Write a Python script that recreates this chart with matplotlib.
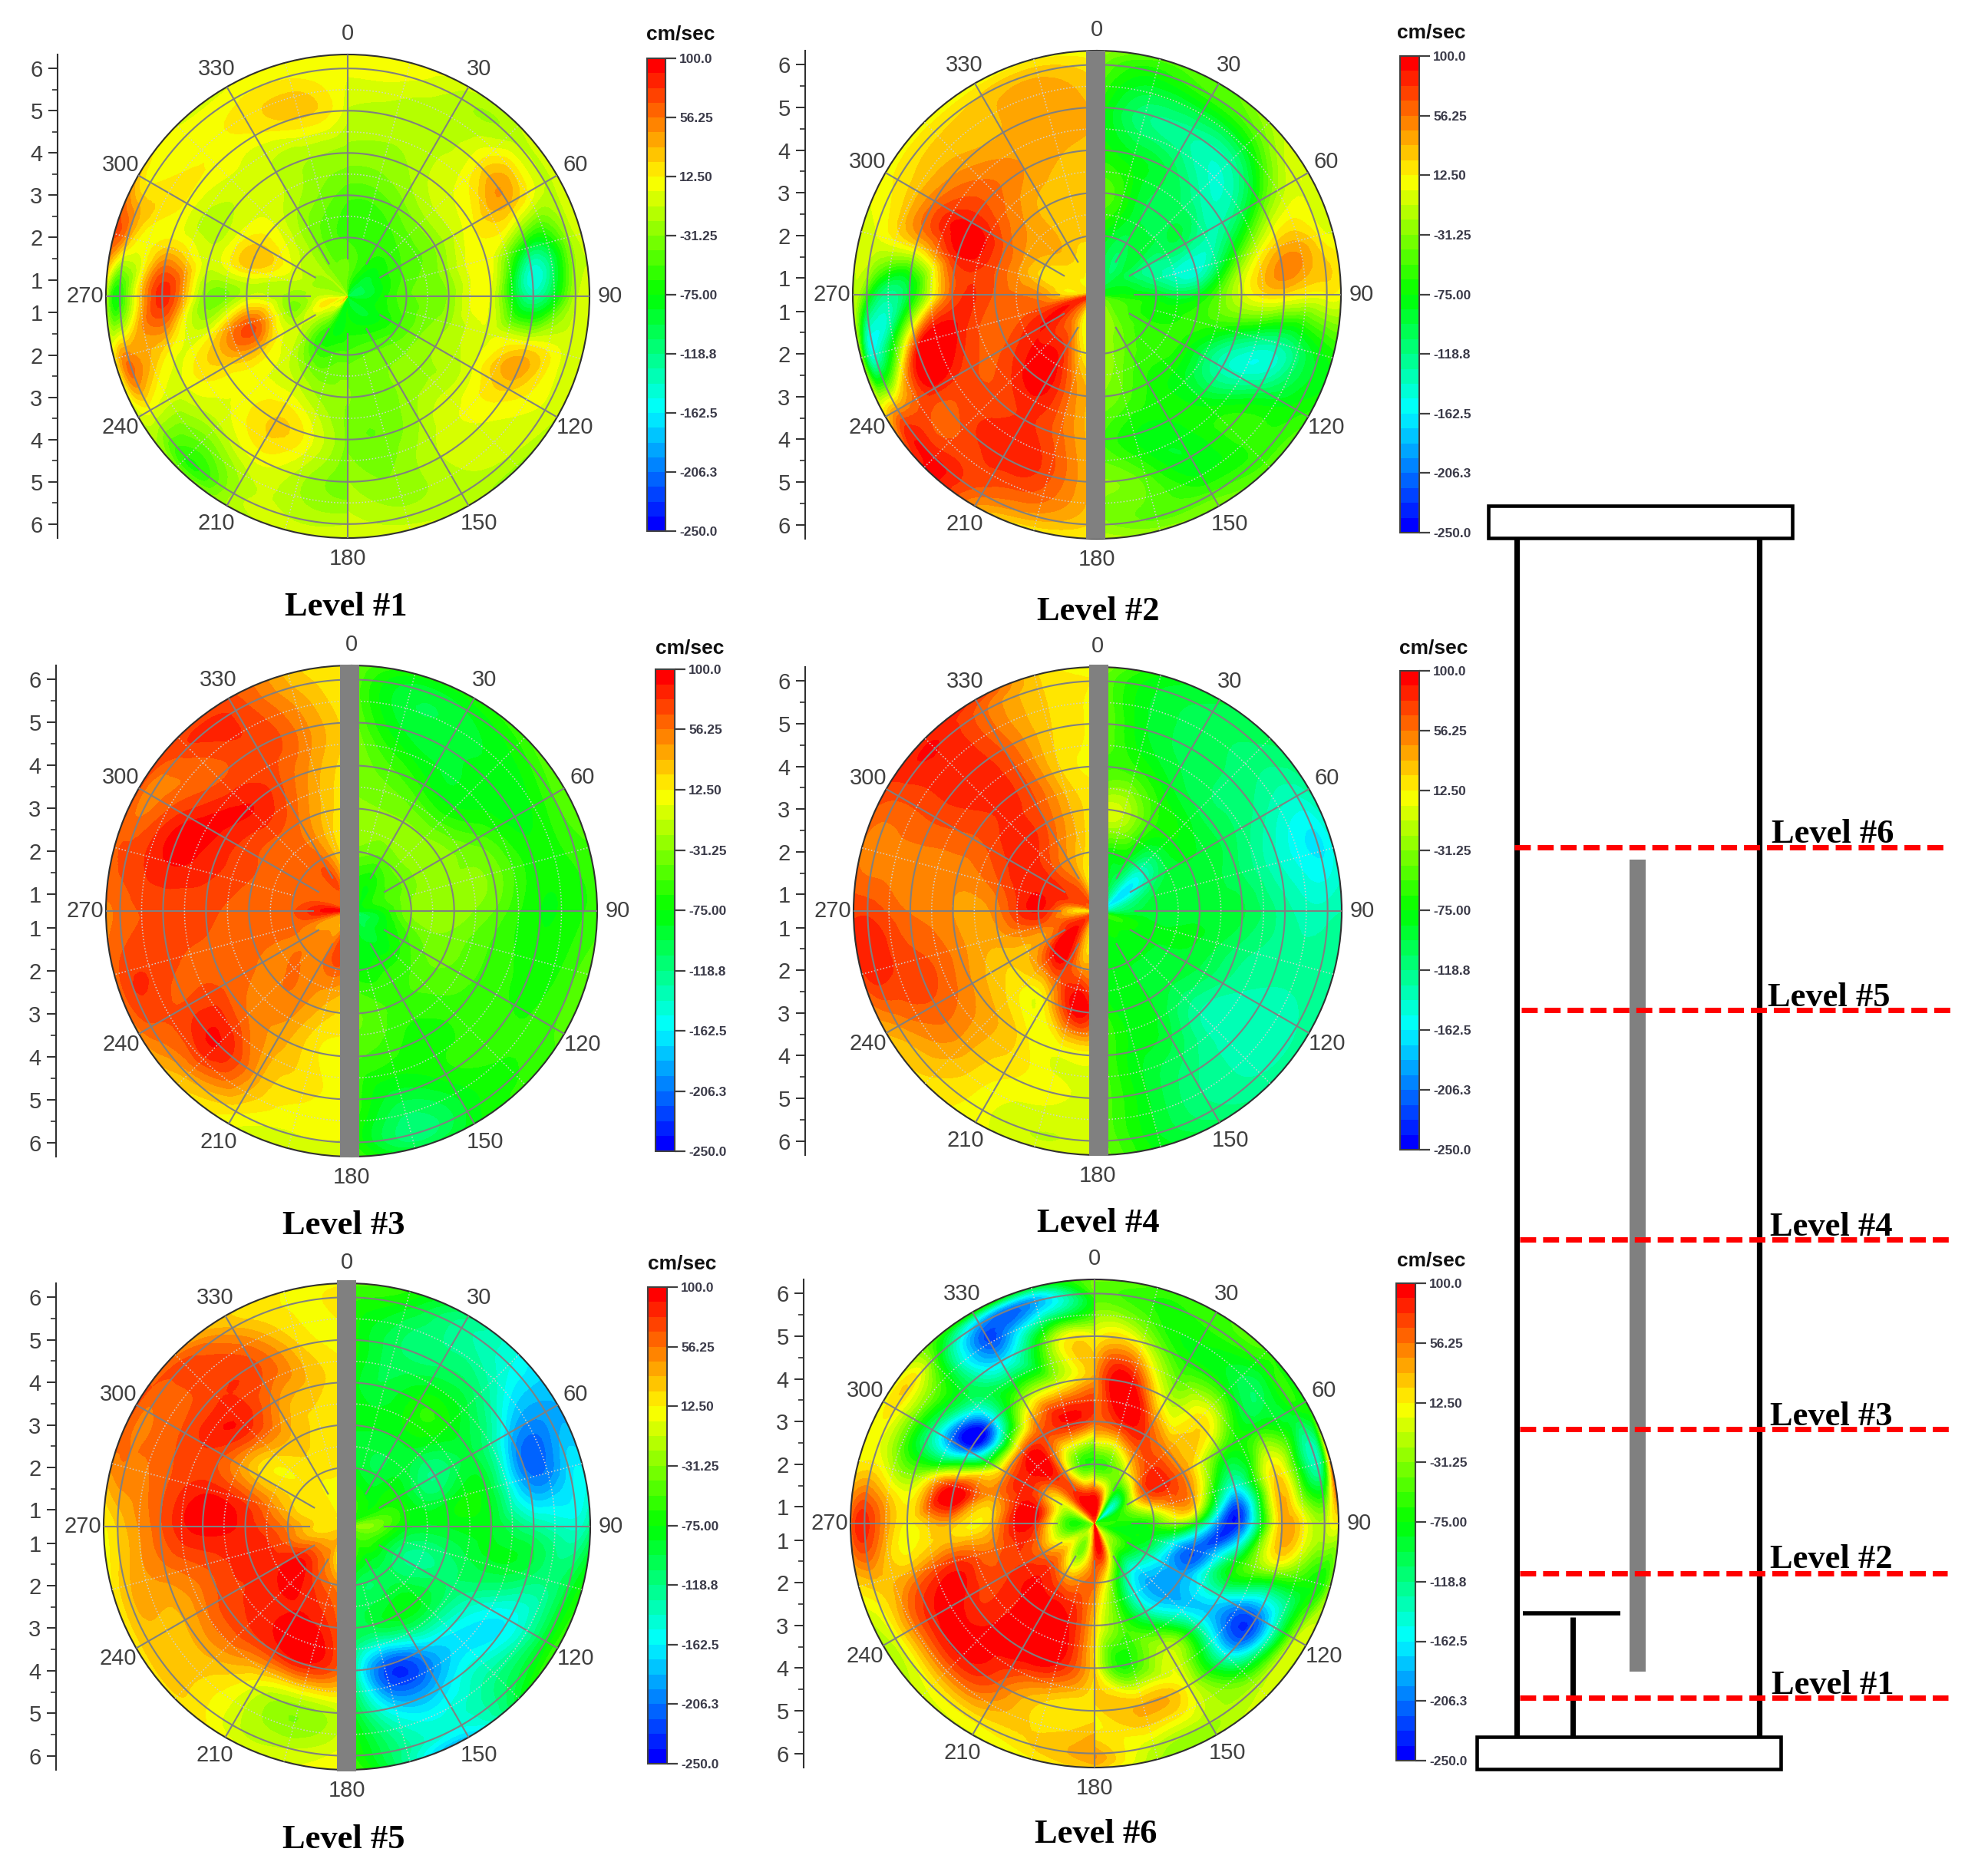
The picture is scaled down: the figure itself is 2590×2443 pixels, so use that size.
import numpy as np
import matplotlib
matplotlib.use("Agg")
import matplotlib.pyplot as plt
import matplotlib.tri as mtri
from matplotlib.cm import ScalarMappable
from matplotlib.colors import BoundaryNorm, LinearSegmentedColormap
from matplotlib.patches import Rectangle

# Velocities in cm/sec.
# One row per ring in ring_radii, one column per 15 degrees over the half disc.
ring_radii = [0.61, 1.3, 2, 3, 4, 5, 6, 6.33]
right_angles = [0, 15, 30, 45, 60, 75, 90, 105, 120, 135, 150, 165, 180]
left_angles = [180, 195, 210, 225, 240, 255, 270, 285, 300, 315, 330, 345, 360]

level1_right = [
    [-60, -90, -100, -100, -110, -110, -100, -90, -80, -90, -90, -90, -80],
    [-40, -55, -70, -85, -85, -85, -80, -75, -80, -85, -80, -75, -70],
    [-55, -60, -60, -60, -55, -50, -45, -50, -55, -50, -45, -45, -50],
    [-50, -50, -40, -30, -30, -25, -30, -25, -20, -25, -30, -35, -30],
    [-25, -25, -15, 0, 10, 10, 0, 0, 0, -5, -20, -40, -35],
    [-10, -15, -15, 15, 35, -90, -130, 10, 25, 0, -10, -30, -20],
    [5, 5, -15, -15, -10, -25, -15, -5, 0, -10, -15, -15, -5],
    [10, 10, -5, -10, -5, -5, -5, 0, -10, -25, -15, -5, 0],
]
level1_left = [
    [-80, -70, -60, 40, -20, 0, -20, -10, -40, -20, -30, -40, -60],
    [-70, -85, -60, -25, 0, 10, -10, -20, -25, -20, -35, -40, -40],
    [-50, -55, -60, -30, -10, -30, -25, -10, -5, -15, -35, -50, -55],
    [-30, -25, -10, 0, 35, 65, -10, 20, 25, 0, -20, -35, -50],
    [-35, 5, 25, 5, 20, 5, -30, -5, -15, -5, -10, -20, -25],
    [-40, -15, 5, -15, 0, 20, 85, 25, 10, 10, 10, 25, -5],
    [-10, -10, -20, -65, 5, 50, -70, 40, 10, 5, 10, 10, 5],
    [0, -5, -20, -35, -10, 10, -10, 70, 30, 0, 0, 5, 10],
]

level2_right = [
    [-60, -70, -80, -85, -85, -85, -80, -60, -40, -30, -25, -20, -15],
    [-90, -100, -110, -100, -95, -85, -75, -55, -50, -45, -30, -25, -20],
    [-70, -90, -100, -90, -120, -120, -85, -70, -60, -55, -45, -30, -25],
    [-45, -65, -100, -100, -110, -150, -85, -60, -70, -70, -65, -45, -30],
    [-70, -85, -100, -130, -130, -55, -5, -85, -135, -85, -75, -75, -50],
    [-60, -115, -125, -130, -60, 30, 20, -125, -110, -60, -85, -50, -30],
    [-35, -70, -55, -40, 0, 10, 10, -80, -70, -60, -50, -45, -25],
    [-20, -50, -50, -20, -5, 0, 5, -70, -60, -45, -35, -25, -15],
]
level2_left = [
    [-10, 0, 10, 30, 60, 85, 60, 30, 15, 15, 10, -5, -10],
    [-5, 0, 15, 50, 75, 80, 20, 15, 15, 15, 15, 12, 10],
    [5, 20, 70, 80, 90, 70, 50, 25, 25, 35, 30, 25, 25],
    [30, 55, 95, 90, 70, 60, 65, 65, 60, 45, 30, 28, 25],
    [25, 60, 80, 70, 70, 90, 65, 85, 90, 60, 45, 35, 25],
    [25, 70, 85, 70, 85, 70, -90, 20, 55, 40, 35, 45, 30],
    [20, 40, 60, 90, 45, -150, -60, 0, 15, 20, 25, 30, 15],
    [10, 15, 45, 90, 20, -20, -10, -5, 5, 5, 5, 10, 5],
]

level3_right = [
    [-40, -50, -60, -75, -85, -90, -80, -110, -120, -115, -100, -85, -80],
    [-60, -70, -75, -70, -60, -60, -75, -85, -85, -90, -90, -85, -85],
    [-35, -40, -45, -40, -40, -35, -30, -45, -60, -70, -70, -75, -70],
    [-25, -30, -30, -30, -25, -30, -25, -35, -40, -50, -55, -50, -40],
    [-35, -50, -70, -75, -50, -35, -45, -55, -55, -60, -70, -60, -50],
    [-35, -85, -90, -85, -80, -70, -75, -70, -65, -60, -70, -90, -50],
    [-40, -90, -85, -70, -55, -60, -65, -55, -55, -65, -85, -115, -60],
    [-40, -70, -70, -55, -45, -55, -60, -45, -50, -60, -80, -95, -50],
]
level3_left = [
    [-10, -5, 0, 15, 30, 50, 90, 75, 60, 55, 35, 20, 15],
    [50, 75, 50, 45, 40, 55, 90, 70, 65, 60, 70, 40, 20],
    [35, 65, 55, 55, 55, 60, 65, 60, 60, 60, 60, 30, 15],
    [15, 30, 50, 55, 55, 60, 60, 65, 65, 65, 55, 30, 12],
    [10, 15, 40, 55, 65, 65, 70, 80, 85, 90, 70, 40, 15],
    [8, 15, 40, 90, 70, 70, 70, 90, 85, 65, 75, 50, 15],
    [0, 0, 15, 40, 65, 75, 60, 70, 50, 75, 75, 35, 12],
    [-5, -10, 5, 25, 50, 60, 55, 65, 70, 70, 70, 30, 15],
]

level4_right = [
    [-70, -65, -100, -125, -140, -160, -150, -80, -60, -70, -75, -60, -55],
    [-40, -75, -110, -150, -170, -130, -105, -70, -70, -75, -75, -80, -80],
    [-50, -75, -85, -135, -125, -95, -90, -85, -85, -85, -85, -85, -80],
    [-5, -10, -55, -75, -85, -90, -90, -85, -90, -95, -85, -80, -50],
    [-60, -60, -85, -100, -100, -105, -95, -110, -120, -130, -95, -80, -40],
    [-30, -85, -100, -110, -125, -140, -125, -125, -135, -135, -115, -85, -40],
    [-35, -85, -100, -110, -140, -165, -135, -125, -130, -130, -115, -85, -35],
    [-25, -75, -95, -105, -125, -150, -130, -125, -125, -125, -105, -80, -30],
]
level4_left = [
    [-10, 30, 20, 40, 60, 30, 15, 40, 60, 65, 45, 15, 0],
    [0, 15, 50, 90, 85, 60, 30, 65, 75, 70, 50, 10, -5],
    [60, 45, 80, 95, 50, 60, 90, 90, 85, 65, 45, 25, 5],
    [60, 90, 20, 15, 25, 40, 50, 65, 80, 85, 65, 35, 15],
    [5, 5, 15, 35, 45, 50, 45, 50, 65, 80, 70, 25, 12],
    [-5, 5, 15, 40, 65, 70, 55, 50, 70, 85, 65, 25, 10],
    [-5, -10, 5, 25, 45, 85, 75, 50, 70, 90, 60, 25, 12],
    [0, -5, 5, 20, 35, 75, 75, 55, 75, 85, 75, 25, 10],
]

level5_right = [
    [-45, -50, -55, -60, -50, -40, -35, -40, -50, -55, -60, -55, -50],
    [-65, -65, -70, -75, -70, -45, -35, -50, -60, -65, -70, -60, -60],
    [-80, -90, -95, -80, -75, -70, -80, -105, -115, -105, -105, -105, -90],
    [-85, -85, -85, -95, -120, -90, -85, -110, -110, -85, -80, -95, -95],
    [-75, -95, -70, -75, -95, -85, -85, -90, -130, -155, -190, -215, -90],
    [-60, -105, -110, -115, -175, -200, -125, -105, -160, -150, -175, -170, -70],
    [-60, -80, -125, -150, -190, -170, -145, -95, -85, -105, -150, -125, -55],
    [-50, -65, -115, -155, -185, -165, -120, -70, -55, -90, -180, -130, -40],
]
level5_left = [
    [0, 15, 30, 25, 30, 25, 30, 25, 15, 10, 10, 5, 0],
    [-5, 5, 40, 45, 40, 25, 20, 20, 15, 15, 10, 5, 5],
    [40, 55, 70, 90, 85, 60, 50, 30, 20, 15, 15, 15, 10],
    [55, 85, 90, 85, 80, 85, 85, 70, 25, 25, 30, 20, 12],
    [45, 85, 80, 75, 70, 70, 95, 85, 70, 85, 50, 30, 12],
    [-5, -25, 0, 35, 35, 50, 65, 65, 70, 75, 70, 25, 12],
    [10, -10, -5, 25, 30, 30, 25, 55, 55, 70, 35, 12, 15],
    [12, 0, 5, 20, 15, 10, 10, 50, 70, 50, 25, 12, 12],
]

level6_right = [
    [60, 60, -10, -140, -100, -60, -50, -50, -40, -30, 30, 90, 90],
    [85, 40, -60, -130, -80, -60, -70, -80, -60, -40, -10, 80, 70],
    [-60, -50, -10, 40, 65, 10, -60, -90, -120, -150, -120, -20, 60],
    [60, 80, 75, 50, 50, 40, -80, -215, -190, -190, -130, -50, 25],
    [40, 95, -10, 20, -50, -150, -230, -90, -150, -130, -10, -65, 20],
    [5, -5, -70, -75, -70, 25, 35, -30, -210, -150, 0, 35, 15],
    [-50, -65, -60, -70, -75, -140, -15, -75, -20, -15, -20, -10, 45],
    [-40, -55, -60, -55, -70, 50, 5, -30, -10, -5, -20, -20, 30],
]
level6_left = [
    [90, 40, 60, -20, -40, -30, -30, -20, 10, 30, 50, 60, 60],
    [70, -10, -40, 0, -10, -45, -55, -40, -10, 50, 90, 85, 85],
    [60, 50, 40, 70, 55, 60, 85, 90, 50, 75, 40, -50, -60],
    [25, 90, 95, 90, 75, 60, 30, 45, 45, 60, 70, 85, 60],
    [20, 90, 100, 90, 85, 75, 35, 85, -200, -180, -30, -5, 40],
    [15, 20, 60, 90, 85, 40, 10, -30, -120, -90, -170, -40, 5],
    [45, 25, 15, 10, 0, 30, 85, 15, 15, -40, -190, -190, -50],
    [30, 10, 0, -5, -20, 20, 60, 10, 5, -30, -60, -90, -40],
]

theta_labels = [0, 30, 60, 90, 120, 150, 180, 210, 240, 270, 300, 330]
bar_ticks = [100, 56.25, 12.5, -31.25, -75, -118.8, -162.5, -206.3, -250]
bar_labels = ["100.0", "56.25", "12.50", "-31.25", "-75.00", "-118.8", "-162.5", "-206.3", "-250.0"]
radial_ticks = [1, 2, 3, 4, 5, 6]

W, H = 2590, 2443
RMIN, RMAX = 0.61, 6.33
TEXT_GRAY = "#404040"

plt.rcParams["font.family"] = ["Liberation Sans", "DejaVu Sans"]

cmap = LinearSegmentedColormap.from_list(
    "velocity", ["#0000ff", "#00ffff", "#00ff00", "#ffff00", "#ff0000"], N=32
)
levels = np.linspace(-250, 100, 33)
norm = BoundaryNorm(levels, cmap.N)

fig = plt.figure(figsize=(W / 100, H / 100), dpi=100, facecolor="white")


def px_axes(left, top, right, bottom, **kwargs):
    # axes placed by pixel box in the output picture
    return fig.add_axes(
        [left / W, 1 - bottom / H, (right - left) / W, (bottom - top) / H], **kwargs
    )


def draw_half(ax, angles, values):
    theta = np.deg2rad(angles)
    radii = np.array(ring_radii)
    tt, rr = np.meshgrid(theta, radii)
    nr, nt = tt.shape
    tris = []
    for i in range(nr - 1):
        for j in range(nt - 1):
            a = i * nt + j
            tris.append([a, a + 1, a + nt])
            tris.append([a + 1, a + nt + 1, a + nt])
    triang = mtri.Triangulation(tt.ravel(), rr.ravel(), np.array(tris))
    refiner = mtri.UniformTriRefiner(triang)
    fine_tri, fine_z = refiner.refine_field(np.array(values, dtype=float).ravel(), subdiv=3)
    ax.tricontourf(fine_tri, fine_z, levels=levels, cmap=cmap, extend="both", antialiased=False)


def draw_level(cx, cy, radius, right, left, axis_x, bar_box, unit_xy):
    ax = px_axes(cx - radius, cy - radius, cx + radius, cy + radius, projection="polar")
    ax.set_theta_zero_location("N")
    ax.set_theta_direction(-1)
    draw_half(ax, right_angles, right)
    draw_half(ax, left_angles, left)

    # solid spokes stop short of the centre, dotted ones sit halfway between
    for a in theta_labels:
        ax.plot([np.deg2rad(a)] * 2, [1.5, RMAX], color="#808080", lw=1.5, zorder=3)
    for a in range(15, 360, 30):
        ax.plot([np.deg2rad(a)] * 2, [2.0, RMAX], color="#d0d0d0", lw=1.1, ls=":", zorder=3)
    circle = np.linspace(0, 2 * np.pi, 361)
    for r in [2.5, 3.5, 4.5, 5.5]:
        ax.plot(circle, np.full_like(circle, r), color="#d0d0d0", lw=1.1, ls=":", zorder=3)
    for r in [2, 3, 4, 5, 6]:
        ax.plot(circle, np.full_like(circle, r), color="#808080", lw=1.5, zorder=3)

    ax.grid(False)
    ax.set_yticks([])
    ax.set_xticks(np.deg2rad(theta_labels), [str(a) for a in theta_labels])
    ax.tick_params(axis="x", labelsize=21, labelcolor=TEXT_GRAY, pad=9)
    ax.spines["polar"].set_color("#303030")
    ax.spines["polar"].set_linewidth(1.5)
    ax.set_rlim(RMIN, RMAX)

    # radial scale on the left, mirrored about the centre line
    scale = px_axes(axis_x, cy - radius, axis_x + 1, cy + radius)
    span = RMAX - RMIN
    scale.set_ylim(-span, span)
    major = [t - RMIN for t in radial_ticks]
    scale.set_yticks(major + [-m for m in major], [str(t) for t in radial_ticks] * 2)
    minor = [t + 0.5 - RMIN for t in radial_ticks[:-1]]
    scale.set_yticks(minor + [-m for m in minor], minor=True)
    scale.set_xticks([])
    for name in ["top", "right", "bottom"]:
        scale.spines[name].set_visible(False)
    scale.spines["left"].set_color("#303030")
    scale.spines["left"].set_linewidth(1.5)
    scale.patch.set_visible(False)
    scale.tick_params(axis="y", which="major", length=9, width=1.4, color="#303030",
                      labelsize=21, labelcolor=TEXT_GRAY, pad=5)
    scale.tick_params(axis="y", which="minor", length=5, width=1.2, color="#303030")

    # colour scale
    cax = px_axes(*bar_box)
    cb = fig.colorbar(ScalarMappable(norm=norm, cmap=cmap), cax=cax, spacing="proportional")
    cb.set_ticks(bar_ticks, labels=bar_labels)
    cb.minorticks_off()
    cb.ax.tick_params(length=10, width=1.6, color="#404040", labelsize=12.5,
                      labelcolor="#3a3a48", pad=3)
    for lab in cb.ax.get_yticklabels():
        lab.set_fontweight("bold")
    cb.outline.set_edgecolor("#404040")
    cb.outline.set_linewidth(1.5)
    over.text(unit_xy[0], unit_xy[1], "cm/sec", fontsize=19, fontweight="bold",
              ha="center", va="center", color="#111111")
    return ax


over = px_axes(0, 0, W, H, zorder=10)
over.set_xlim(0, W)
over.set_ylim(H, 0)
over.axis("off")

draw_level(453, 386, 315, level1_right, level1_left, 75, (843, 76, 867, 692), (887, 45))
draw_level(1429, 384, 318, level2_right, level2_left, 1049, (1824, 73, 1849, 694), (1865, 43))
draw_level(458, 1187, 320, level3_right, level3_left, 73, (854, 872, 879, 1500), (899, 844))
draw_level(1430, 1187, 318, level4_right, level4_left, 1049, (1824, 874, 1849, 1498), (1868, 844))
draw_level(452, 1989, 317, level5_right, level5_left, 73, (844, 1677, 869, 2298), (889, 1647))
draw_level(1426, 1985, 318, level6_right, level6_left, 1047, (1819, 1672, 1844, 2294), (1865, 1642))

# grey rods through the panels that cross the pipe
for x, y0, y1 in [(1427, 66, 702), (455, 866, 1508), (1431, 866, 1506), (451, 1668, 2308)]:
    over.add_patch(Rectangle((x - 12.5, y0), 25, y1 - y0, color="#808080", lw=0, zorder=5))

# panel captions
caption_pos = [(451, 791), (1431, 797), (448, 1597), (1431, 1594), (448, 2397), (1428, 2390)]
for i, (x, y) in enumerate(caption_pos):
    over.text(x, y, "Level #%d" % (i + 1), family=["Liberation Serif"], fontweight="bold",
              fontsize=32, ha="center", va="center", color="black")

# column schematic on the right
over.add_patch(Rectangle((1939, 659), 396, 42, fc="white", ec="black", lw=3.3))
over.add_patch(Rectangle((1924, 2263), 396, 42, fc="white", ec="black", lw=3.3))
over.plot([1976, 1976], [701, 2263], color="black", lw=5.2, solid_capstyle="butt")
over.plot([2292, 2292], [701, 2263], color="black", lw=5.2, solid_capstyle="butt")
over.add_patch(Rectangle((2123, 1120), 21, 1058, color="#808080", lw=0))
over.plot([1984, 2111], [2102, 2102], color="black", lw=4, solid_capstyle="butt")
over.plot([2048.5, 2048.5], [2107, 2263], color="black", lw=5, solid_capstyle="butt")

line_rows = [
    (2212, 1980, 2538, 2308, 2207),
    (2050, 1980, 2537, 2306, 2043),
    (1862, 1980, 2543, 2306, 1857),
    (1615, 1980, 2543, 2306, 1610),
    (1316, 1982, 2543, 2303, 1311),
    (1104, 1973, 2537, 2308, 1098),
]
for i, (y, x0, x1, tx, ty) in enumerate(line_rows):
    over.plot([x0, x1], [y, y], color="#ff0000", lw=5, ls=(0, (3.0, 1.3)),
              dash_capstyle="butt", zorder=6)
    over.text(tx, ty, "Level #%d" % (i + 1), family=["Liberation Serif"], fontweight="bold",
              fontsize=32, ha="left", va="baseline", color="black", zorder=7)

fig.savefig("out.png", dpi=100, facecolor="white")
